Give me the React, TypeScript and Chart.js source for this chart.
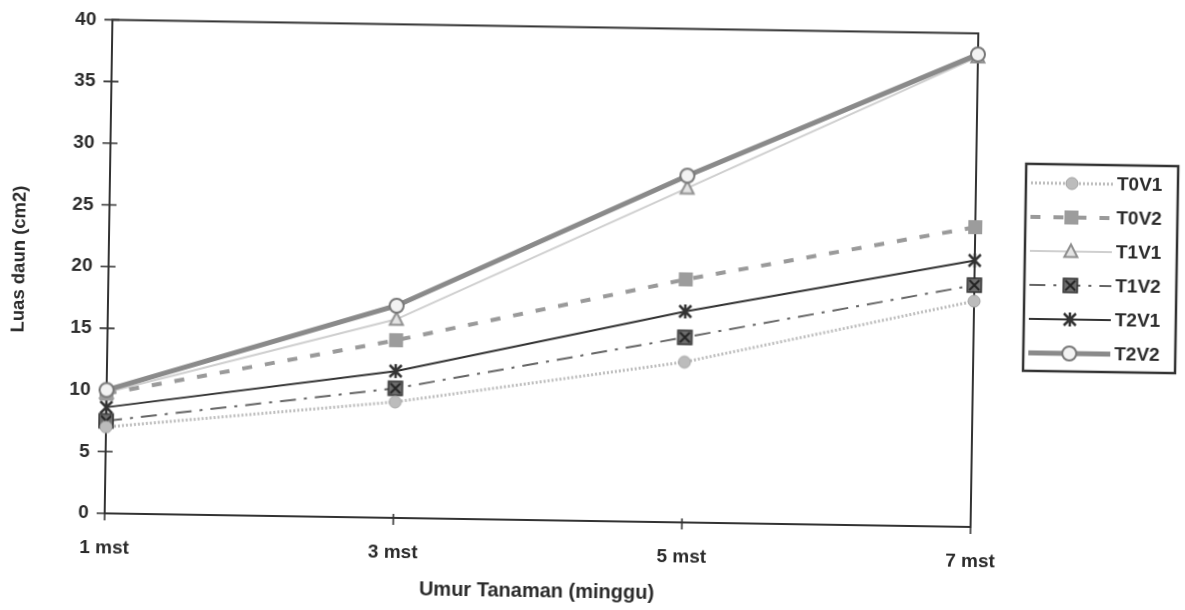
import { useEffect, useRef } from "react";
import { Chart, registerables } from "chart.js";

Chart.register(...registerables);

// Plant age (weeks after planting) and leaf area per treatment (cm2)
const weeks = ["1 mst", "3 mst", "5 mst", "7 mst"];
const t0v1 = [7.0, 9.4, 13.0, 18.3];
const t0v2 = [9.7, 14.4, 19.7, 24.3];
const t1v1 = [9.8, 16.1, 27.1, 38.1];
const t1v2 = [7.5, 10.5, 15.0, 19.6];
const t2v1 = [8.6, 11.9, 17.1, 21.6];
const t2v2 = [10.0, 17.2, 28.1, 38.3];
const seriesNames = ["T0V1", "T0V2", "T1V1", "T1V2", "T2V1", "T2V2"];
const yTickValues = [0, 5, 10, 15, 20, 25, 30, 35, 40];

const FONT = "'Liberation Sans', Arial, sans-serif";
const INK = "#2b2b2b";

type MarkerKind = "dot" | "square" | "triangle" | "boxX" | "star" | "ring";

function drawMarker(ctx: CanvasRenderingContext2D, kind: MarkerKind, x: number, y: number) {
  ctx.save();
  ctx.setLineDash([]);
  ctx.lineCap = "butt";
  switch (kind) {
    case "dot":
      ctx.beginPath();
      ctx.arc(x, y, 6, 0, Math.PI * 2);
      ctx.fillStyle = "#bcbcbc";
      ctx.fill();
      ctx.lineWidth = 1;
      ctx.strokeStyle = "#a2a2a2";
      ctx.stroke();
      break;
    case "square":
      ctx.fillStyle = "#9c9c9c";
      ctx.fillRect(x - 7, y - 7, 14, 14);
      break;
    case "triangle":
      ctx.beginPath();
      ctx.moveTo(x, y - 7);
      ctx.lineTo(x + 6.5, y + 5.5);
      ctx.lineTo(x - 6.5, y + 5.5);
      ctx.closePath();
      ctx.fillStyle = "#e4e4e4";
      ctx.fill();
      ctx.lineWidth = 2;
      ctx.strokeStyle = "#8e8e8e";
      ctx.stroke();
      break;
    case "boxX":
      ctx.fillStyle = "#6e6e6e";
      ctx.fillRect(x - 7, y - 7, 14, 14);
      ctx.lineWidth = 1.5;
      ctx.strokeStyle = "#333";
      ctx.strokeRect(x - 7, y - 7, 14, 14);
      ctx.beginPath();
      ctx.moveTo(x - 5, y - 5);
      ctx.lineTo(x + 5, y + 5);
      ctx.moveTo(x - 5, y + 5);
      ctx.lineTo(x + 5, y - 5);
      ctx.lineWidth = 2;
      ctx.strokeStyle = "#222";
      ctx.stroke();
      break;
    case "star":
      ctx.beginPath();
      ctx.moveTo(x - 6, y - 6);
      ctx.lineTo(x + 6, y + 6);
      ctx.moveTo(x - 6, y + 6);
      ctx.lineTo(x + 6, y - 6);
      ctx.moveTo(x, y - 7);
      ctx.lineTo(x, y + 7);
      ctx.lineWidth = 2.5;
      ctx.strokeStyle = "#333";
      ctx.stroke();
      break;
    case "ring":
      ctx.beginPath();
      ctx.arc(x, y, 7, 0, Math.PI * 2);
      ctx.fillStyle = "#f2f2f2";
      ctx.fill();
      ctx.lineWidth = 2;
      ctx.strokeStyle = "#777";
      ctx.stroke();
      break;
  }
  ctx.restore();
}

function markerImage(kind: MarkerKind): HTMLCanvasElement {
  const c = document.createElement("canvas");
  c.width = 20;
  c.height = 20;
  const g = c.getContext("2d")!;
  drawMarker(g, kind, 10, 10);
  return c;
}

type SeriesStyle = {
  color: string;
  width: number;
  dash: number[];
  marker: MarkerKind;
};

const seriesStyles: SeriesStyle[] = [
  { color: "#bdbdbd", width: 3, dash: [2, 2], marker: "dot" },
  { color: "#9a9a9a", width: 4, dash: [10, 13], marker: "square" },
  { color: "#cfcfcf", width: 2, dash: [], marker: "triangle" },
  { color: "#666666", width: 2, dash: [16, 8, 3, 8], marker: "boxX" },
  { color: "#333333", width: 2, dash: [], marker: "star" },
  { color: "#8a8a8a", width: 5, dash: [], marker: "ring" },
];

const seriesValues = [t0v1, t0v2, t1v1, t1v2, t2v1, t2v2];

// Frame, tick marks, axis titles and the boxed legend
const framePlugin = {
  id: "frame",
  beforeDraw(chart: Chart) {
    const { ctx, width, height } = chart;
    ctx.save();
    ctx.fillStyle = "#ffffff";
    ctx.fillRect(0, 0, width, height);
    ctx.restore();
  },
  beforeDatasetsDraw(chart: Chart) {
    const { ctx, chartArea } = chart;
    const { left, right, top, bottom } = chartArea;
    const xs = chart.scales.x;
    const ys = chart.scales.y;
    ctx.save();
    ctx.strokeStyle = "#333";
    ctx.lineWidth = 2;
    ctx.strokeRect(left, top, right - left, bottom - top);
    ctx.beginPath();
    for (const v of yTickValues) {
      const py = ys.getPixelForValue(v);
      ctx.moveTo(left - 8, py);
      ctx.lineTo(left + 7, py);
    }
    for (let i = 0; i < weeks.length; i++) {
      const px = xs.getPixelForValue(i);
      ctx.moveTo(px, bottom - 4);
      ctx.lineTo(px, bottom + 7);
    }
    ctx.lineWidth = 1.6;
    ctx.stroke();
    ctx.restore();
  },
  afterDraw(chart: Chart) {
    const { ctx, chartArea } = chart;
    ctx.save();
    ctx.fillStyle = INK;
    ctx.textAlign = "center";
    ctx.textBaseline = "middle";
    ctx.font = `bold 20px ${FONT}`;
    ctx.fillText("Umur Tanaman (minggu)", (chartArea.left + chartArea.right) / 2, 592);

    ctx.save();
    ctx.translate(19, 268);
    ctx.rotate(-Math.PI / 2);
    ctx.font = `bold 18.5px ${FONT}`;
    ctx.fillText("Luas daun (cm2)", 0, 0);
    ctx.restore();

    // legend
    const boxL = 1024;
    const boxT = 157;
    ctx.strokeStyle = "#333";
    ctx.lineWidth = 2.5;
    ctx.strokeRect(boxL, boxT, 152, 207);
    ctx.font = `bold 19px ${FONT}`;
    ctx.textAlign = "left";
    seriesNames.forEach((name, i) => {
      const st = seriesStyles[i];
      const y = 176 + i * 34;
      ctx.save();
      ctx.strokeStyle = st.color;
      ctx.lineWidth = st.width;
      ctx.setLineDash(st.dash);
      ctx.beginPath();
      ctx.moveTo(1029, y);
      ctx.lineTo(1111, y);
      ctx.stroke();
      ctx.restore();
      drawMarker(ctx, st.marker, 1070, y);
      ctx.fillStyle = INK;
      ctx.fillText(name, 1115, y + 1);
    });
    ctx.restore();
  },
};

export default function App() {
  const canvasRef = useRef<HTMLCanvasElement | null>(null);

  useEffect(() => {
    const canvas = canvasRef.current;
    if (!canvas) return;

    const datasets = seriesNames.map((name, i) => {
      const st = seriesStyles[i];
      return {
        label: name,
        data: seriesValues[i],
        borderColor: st.color,
        backgroundColor: st.color,
        borderWidth: st.width,
        borderDash: st.dash,
        pointStyle: markerImage(st.marker),
        pointRadius: 7,
        tension: 0,
        fill: false,
        clip: false as const,
        order: name === "T2V2" ? -1 : 0,
      };
    });

    const chart = new Chart(canvas, {
      type: "line",
      data: { labels: weeks, datasets },
      options: {
        animation: false,
        responsive: false,
        maintainAspectRatio: false,
        layout: { padding: { top: 26, right: 211, left: 0, bottom: 0 } },
        plugins: {
          legend: { display: false },
          tooltip: { enabled: false },
        },
        scales: {
          x: {
            type: "category",
            offset: false,
            grid: { display: false, drawTicks: false },
            border: { display: false },
            ticks: {
              color: INK,
              font: { family: FONT, size: 19, weight: "bold" },
              padding: 23,
              maxRotation: 0,
              autoSkip: false,
            },
            afterFit: (s: any) => {
              s.height = 89;
            },
          },
          y: {
            min: 0,
            max: 40,
            grid: { display: false, drawTicks: false },
            border: { display: false },
            ticks: {
              stepSize: 5,
              color: INK,
              font: { family: FONT, size: 19, weight: "bold" },
              padding: 16,
            },
            afterFit: (s: any) => {
              s.width = 108;
            },
          },
        },
      },
      plugins: [framePlugin],
    });

    return () => {
      chart.destroy();
    };
  }, []);

  return (
    <div
      style={{
        position: "fixed",
        left: 0,
        top: 0,
        width: 1185,
        height: 610,
        background: "#fff",
        transform: "rotate(0.9deg)",
        transformOrigin: "50% 50%",
      }}
    >
      <canvas ref={canvasRef} width={1185} height={610} style={{ display: "block" }} />
    </div>
  );
}
